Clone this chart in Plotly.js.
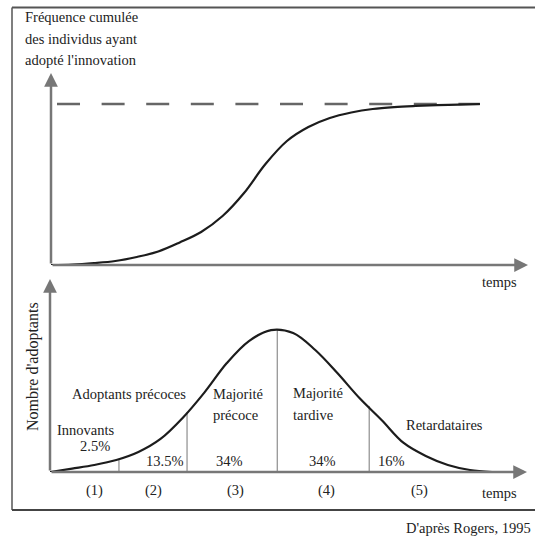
<!DOCTYPE html>
<html>
<head>
<meta charset="utf-8">
<script src="https://cdn.plot.ly/plotly-3.0.1.min.js"></script>
<style>
html,body{margin:0;padding:0;background:#fff;}
#chart{width:535px;height:539px;}
</style>
</head>
<body>
<div id="chart"></div>
<script>
// ---------- DATA ----------
// Top: cumulative frequency of adopters (%) over time (relative units 0..100)
const timeTop = [0, 5, 10, 15, 20, 25, 30, 35, 40, 45, 50, 55, 60, 65, 70, 75, 80, 85, 90, 95, 100];
const cumulFreq = [0, 0.3, 1.2, 2.5, 5.0, 8.4, 14.0, 20.5, 30.4, 44.7, 62.7, 77.0, 85.7, 91.3, 94.7, 96.9, 98.1, 98.8, 99.3, 99.6, 100];
const saturationTime = [1.4, 100];
const saturationLevel = [100, 100];

// Bottom: number of adopters (relative, peak = 100) over time
const timeBottom = [0, 5, 10, 15, 20, 25, 30, 35, 40, 45, 50, 55, 60, 65, 70, 75, 80, 85, 90, 95, 100];
const adopters = [0, 2.4, 4.9, 8.4, 14.0, 23.1, 37.8, 55.9, 76.2, 91.6, 99.3, 97.2, 85.3, 69.2, 51.7, 36.4, 20.3, 11.2, 4.9, 1.4, 0];
// Boundaries between adopter categories and the curve height there
const boundaryTime = [15.6, 31.0, 51.4, 72.2];
const boundaryHeight = [9.1, 42.0, 99.6, 46.2];

// Labels
const categories = ['Innovants', 'Adoptants précoces', 'Majorité\nprécoce', 'Majorité\ntardive', 'Retardataires'];
const shares = ['2.5%', '13.5%', '34%', '34%', '16%'];
const groupNumbers = ['(1)', '(2)', '(3)', '(4)', '(5)'];
const topTitle = ['Fréquence cumulée', 'des individus ayant', "adopté l'innovation"];
const bottomTitle = "Nombre d'adoptants";
const timeLabel = 'temps';
const sourceLabel = "D'après Rogers, 1995";

// ---------- LAYOUT HELPERS (pixel -> paper) ----------
const W = 535, H = 539;
const px = x => x / W;
const py = y => 1 - y / H;

const FONT = 'Liberation Serif';
const TXT = '#222';
const AXC = '#777';

const catPos = [
  {x: 85.5, y: [430], anchor: 'center'},
  {x: 128.5, y: [394], anchor: 'center'},
  {x: 211, y: [394, 415], anchor: 'left'},
  {x: 291, y: [393, 415], anchor: 'left'},
  {x: 444.5, y: [425], anchor: 'center'}
];
const sharePos = [{x: 94.5, y: 446}, {x: 164.5, y: 461}, {x: 229, y: 461}, {x: 322.5, y: 461}, {x: 391.5, y: 461}];
const numPos = [94, 153, 235, 326, 419];

// ---------- TRACES ----------
const traces = [];
traces.push({x: saturationTime, y: saturationLevel, xaxis: 'x', yaxis: 'y', mode: 'lines',
  line: {color: '#666', width: 2.5, dash: '23px,21.6px'}, hoverinfo: 'skip', showlegend: false});
traces.push({x: timeTop, y: cumulFreq, xaxis: 'x', yaxis: 'y', mode: 'lines',
  line: {color: '#1c1c1c', width: 2.2, shape: 'spline', smoothing: 1}, hoverinfo: 'skip', showlegend: false});
const bx = [], by = [];
boundaryTime.forEach((t, i) => { bx.push(t, t, null); by.push(0, boundaryHeight[i], null); });
traces.push({x: bx, y: by, xaxis: 'x2', yaxis: 'y2', mode: 'lines',
  line: {color: '#777', width: 1}, hoverinfo: 'skip', showlegend: false});
traces.push({x: timeBottom, y: adopters, xaxis: 'x2', yaxis: 'y2', mode: 'lines',
  line: {color: '#1c1c1c', width: 2.2, shape: 'spline', smoothing: 1}, hoverinfo: 'skip', showlegend: false});

// ---------- AXES RANGES ----------
const topXMax = 111.2, topYMax = 119.25;
const botXMax = 107.9, botYMax = 135.0;

// ---------- ANNOTATIONS ----------
const ann = [];
function arrow(xref, yref, x, y, ax, ay) {
  ann.push({xref: xref, yref: yref, axref: xref, ayref: yref, x: x, y: y, ax: ax, ay: ay,
    text: '', showarrow: true, arrowhead: 2, arrowsize: 1.1, arrowwidth: 2.5, arrowcolor: AXC, standoff: 0});
}
arrow('x', 'y', topXMax, 0, 0, 0);
arrow('x', 'y', 0, topYMax, 0, 0);
arrow('x2', 'y2', botXMax, 0, 0, 0);
arrow('x2', 'y2', 0, botYMax, 0, 0);

function label(text, x, y, anchor, size, angle) {
  ann.push({xref: 'paper', yref: 'paper', x: px(x), y: py(y), text: text, showarrow: false,
    xanchor: anchor || 'center', yanchor: 'middle', textangle: angle || 0,
    font: {family: FONT, size: size || 14.5, color: TXT}});
}
topTitle.forEach((t, i) => label(t, 23, [17, 39, 60][i], 'left'));
label(timeLabel, 499.5, 282);
label(timeLabel, 499.5, 493);
label(bottomTitle, 33, 367, 'center', 16, -90);
categories.forEach((c, i) => {
  c.split('\n').forEach((line, j) => label(line, catPos[i].x, catPos[i].y[j], catPos[i].anchor));
});
shares.forEach((s, i) => label(s, sharePos[i].x, sharePos[i].y));
groupNumbers.forEach((n, i) => label(n, numPos[i], 490));
label(sourceLabel, 533, 528, 'right');

// ---------- SHAPES (frame) ----------
const shapes = [
  {type: 'line', xref: 'paper', yref: 'paper', x0: px(12), x1: px(12), y0: py(7.5), y1: py(510), line: {color: '#555', width: 1.5}},
  {type: 'line', xref: 'paper', yref: 'paper', x0: px(12), x1: 1.02, y0: py(7.5), y1: py(7.5), line: {color: '#555', width: 2}},
  {type: 'line', xref: 'paper', yref: 'paper', x0: px(12), x1: 1.02, y0: py(510), y1: py(510), line: {color: '#444', width: 2}}
];

const hidden = {visible: false, fixedrange: true};
const layout = {
  width: W, height: H,
  margin: {l: 0, r: 0, t: 0, b: 0},
  paper_bgcolor: '#fff', plot_bgcolor: 'rgba(0,0,0,0)',
  showlegend: false,
  font: {family: FONT},
  xaxis: Object.assign({domain: [px(51), px(528)], range: [0, topXMax], anchor: 'y'}, hidden),
  yaxis: Object.assign({domain: [py(265), py(73)], range: [0, topYMax], anchor: 'x'}, hidden),
  xaxis2: Object.assign({domain: [px(50), px(527)], range: [0, botXMax], anchor: 'y2'}, hidden),
  yaxis2: Object.assign({domain: [py(472), py(279)], range: [0, botYMax], anchor: 'x2'}, hidden),
  annotations: ann,
  shapes: shapes
};

Plotly.newPlot('chart', traces, layout, {staticPlot: true, displayModeBar: false});
</script>
</body>
</html>
